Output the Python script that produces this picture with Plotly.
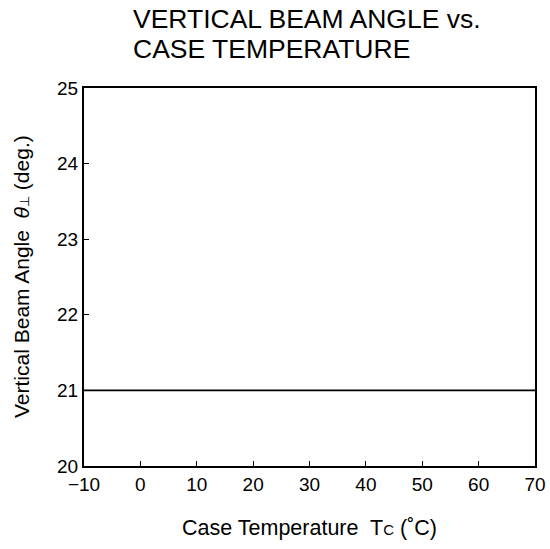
import plotly.graph_objects as go

case_temp = [-10, 70]
beam_angle = [21, 21]
x_ticks = [-10, 0, 10, 20, 30, 40, 50, 60, 70]
x_tick_labels = ["\u221210", "0", "10", "20", "30", "40", "50", "60", "70"]
y_ticks = [20, 21, 22, 23, 24, 25]
title_lines = ["VERTICAL BEAM ANGLE vs.", "CASE TEMPERATURE"]

FONT = "Liberation Sans, Arial, sans-serif"
W, H = 550, 549
L, R, T, B = 84, 15, 88, 83
PW, PH = W - L - R, H - T - B

fig = go.Figure()
fig.add_trace(go.Scatter(x=case_temp, y=beam_angle, mode="lines",
                         line=dict(color="black", width=1.6), showlegend=False))

fig.update_layout(
    width=W, height=H, autosize=False,
    margin=dict(l=L, r=R, t=T, b=B),
    paper_bgcolor="white", plot_bgcolor="white",
    font=dict(family=FONT, color="black", size=19),
)
fig.update_xaxes(range=[-10, 70], tickvals=x_ticks, ticktext=x_tick_labels,
                 automargin=False,
                 showgrid=False, zeroline=False, showline=True, linecolor="black",
                 linewidth=2, mirror=True, ticks="inside", ticklen=5, tickwidth=1,
                 tickcolor="black", tickfont=dict(size=19))
fig.update_yaxes(range=[20, 25], tickvals=y_ticks, automargin=False,
                 showgrid=False, zeroline=False, showline=True, linecolor="black",
                 linewidth=2, mirror=True, ticks="inside", ticklen=5, tickwidth=1,
                 tickcolor="black", tickfont=dict(size=19))

for i, t in enumerate(title_lines):
    fig.add_annotation(text=t, xref="paper", yref="paper",
                       x=(131 - L) / PW, y=1 + (T - (19 + 30 * i)) / PH,
                       xanchor="left", yanchor="middle", showarrow=False,
                       font=dict(size=26.5, family=FONT))

fig.add_annotation(text="Case Temperature  T<span style='font-size:15px'>C</span> (\u02daC)",
                   xref="paper", yref="paper", x=0.5,
                   y=-(528 - (H - B)) / PH, xanchor="center", yanchor="middle",
                   showarrow=False, font=dict(size=21.5, family=FONT))

fig.add_annotation(text="Vertical Beam Angle  <i>\u03b8</i><span style='font-size:13px'>\u22a5</span> (deg.)",
                   xref="paper", yref="paper", x=-(L - 21) / PW,
                   y=0.5, xanchor="center", yanchor="middle",
                   textangle=-90, showarrow=False, font=dict(size=21, family=FONT))

fig.write_html("out.html",
               config={"displayModeBar": False, "responsive": False},
               post_script="document.body.style.margin='0';document.body.style.overflow='hidden';")
